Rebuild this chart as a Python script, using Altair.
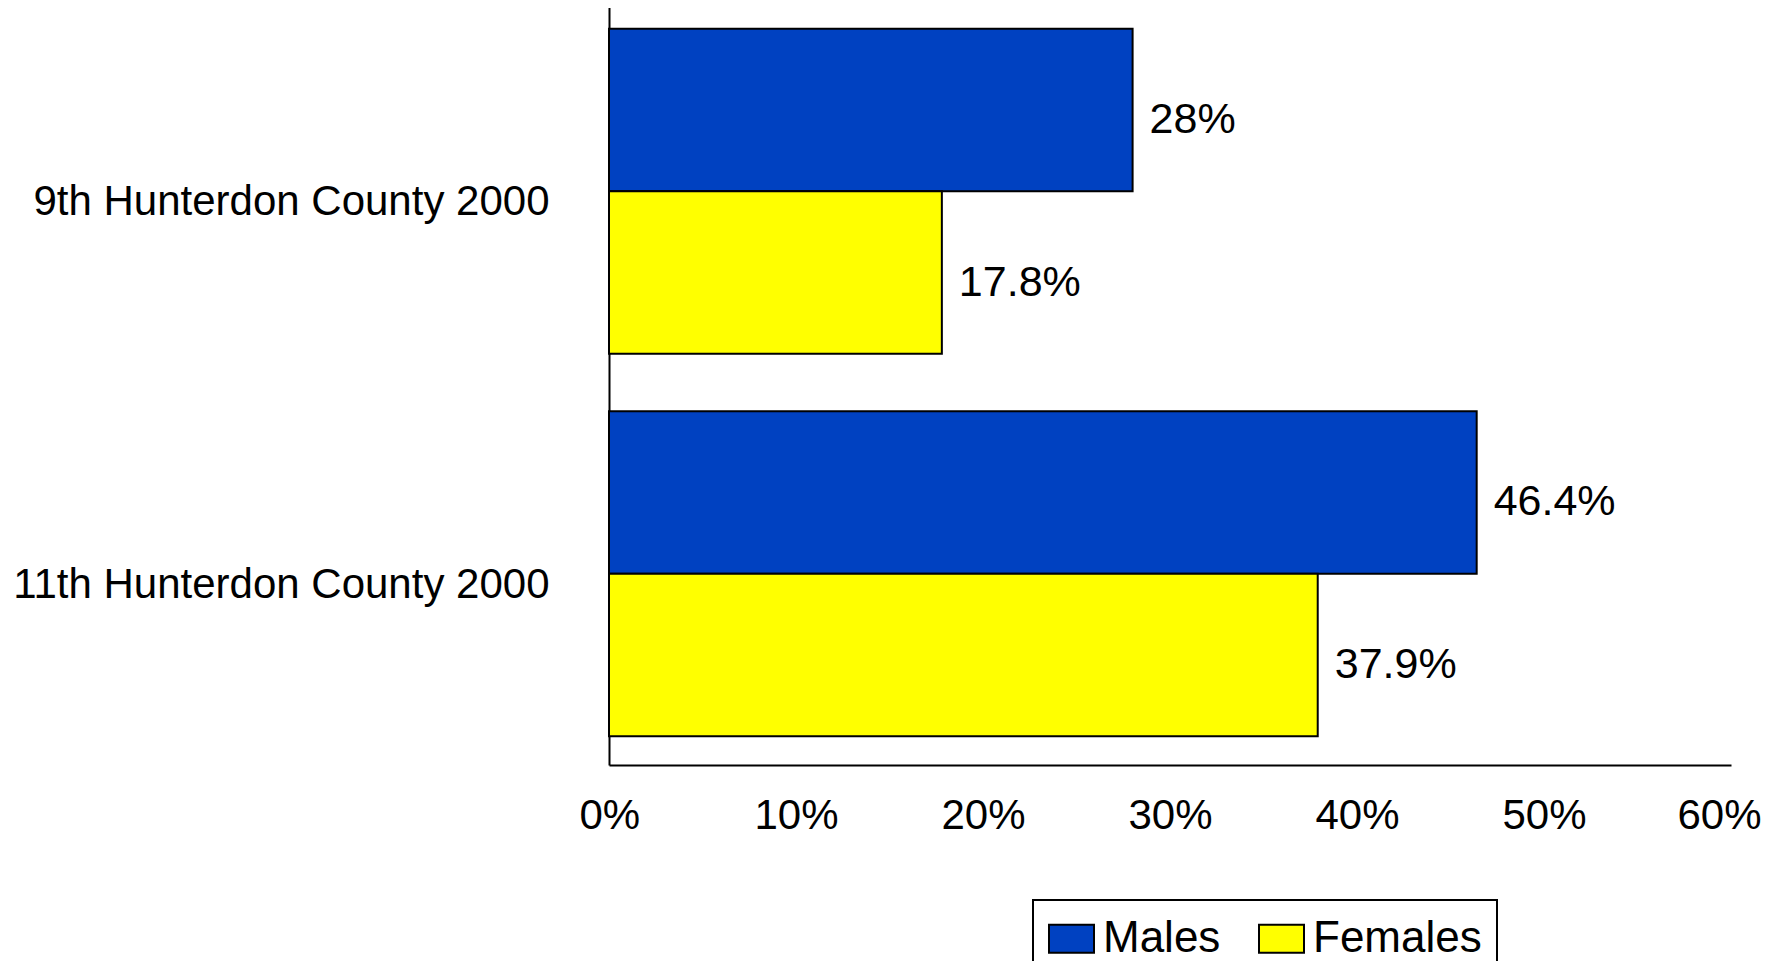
import altair as alt
import pandas as pd

categories = ["9th Hunterdon County 2000", "11th Hunterdon County 2000"]
series = ["Males", "Females"]
males = [28, 46.4]
females = [17.8, 37.9]
colors = ["#0041C1", "#FFFF00"]
x_ticks = [0, 10, 20, 30, 40, 50, 60]

rows = []
for i, c in enumerate(categories):
    rows.append({"group": c, "sex": "Males", "value": males[i]})
    rows.append({"group": c, "sex": "Females", "value": females[i]})
df = pd.DataFrame(rows)
df["label"] = df["value"].map(lambda v: f"{v:g}%")

FONT = "Liberation Sans"

base = alt.Chart(df).encode(
    y=alt.Y("group:N", sort=categories, title=None,
            scale=alt.Scale(paddingInner=0.15, paddingOuter=0.075),
            axis=alt.Axis(labelFontSize=42, labelFont=FONT, labelColor="black",
                          labelPadding=60, labelOffset=11, ticks=False,
                          domainColor="black", domainWidth=2, labelLimit=800)),
    yOffset=alt.YOffset("sex:N", sort=series, scale=alt.Scale(paddingInner=0, paddingOuter=0)),
)

bars = base.mark_bar(stroke="black", strokeWidth=2).encode(
    x=alt.X("value:Q", title=None,
            scale=alt.Scale(domain=[0, 60], nice=False, zero=True),
            axis=alt.Axis(values=x_ticks, labelExpr="datum.value + '%'",
                          labelFontSize=42, labelFont=FONT, labelColor="black",
                          labelPadding=30, ticks=False, grid=False,
                          domainColor="black", domainWidth=2,
                          labelFlush=True, labelFlushOffset=30)),
    color=alt.Color("sex:N", sort=series,
                    scale=alt.Scale(domain=series, range=colors),
                    legend=alt.Legend(title=None, orient="none", direction="horizontal",
                                      legendX=424, legendY=900,
                                      symbolType="M-1,-0.62H1V0.62H-1Z", symbolSize=2025,
                                      symbolStrokeColor="black", symbolStrokeWidth=2,
                                      labelFontSize=44, labelFont=FONT, labelColor="black",
                                      labelOffset=8, columnPadding=34, labelLimit=400,
                                      labelExpr="datum.label == 'Females' ? datum.label + '\u00a0\u00a0' : datum.label",
                                      strokeColor="black", padding=15,
                                      fillColor="white")),
)

texts = base.mark_text(align="left", baseline="middle", dx=17, dy=10,
                       fontSize=43, font=FONT, color="black").encode(
    x="value:Q",
    text="label:N",
)

chart = alt.layer(bars, texts).properties(
    width=1122, height=765,
    autosize=alt.AutoSizeParams(type="none"),
    padding={"left": 601, "top": -8, "right": 36, "bottom": 196},
).configure_view(stroke=None).configure_legend(strokeWidth=2)

chart.save("out.html", embed_options={"renderer": "svg", "actions": False})
